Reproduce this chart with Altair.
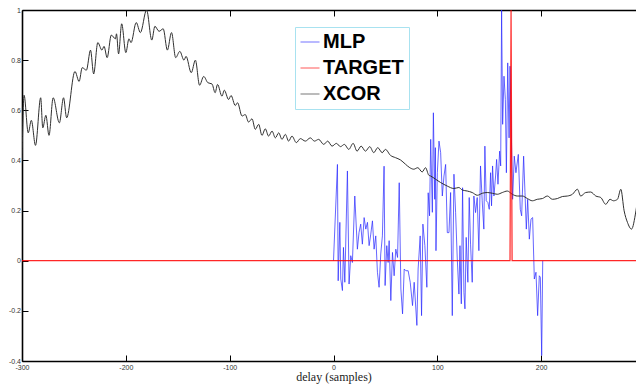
import altair as alt
import pandas as pd

# ---- data ----
xcor_x = [-300, -298, -294, -291, -287, -282, -280, -277, -274, -270, -264, -260, -257,
          -249, -245, -242, -238, -234, -231, -227, -223, -221, -218, -214, -210, -209,
          -207, -204, -200, -197, -195, -190, -186, -180, -175, -172, -168, -164, -160,
          -156, -152, -148, -144, -142, -137, -133, -129, -125, -121, -117, -114, -111.7,
          -107.4, -105.2, -101, -98.7, -94.6, -92.4, -88.1, -85, -81.8, -78.5, -75.3,
          -72.1, -68.9, -65.7, -62.5, -59.2, -56, -52.8, -49.6, -46.4, -43.2, -40, -35.8,
          -31.9, -27.1, -22.3, -18.4, -14.3, -9.4, -5.6, -1.4, 2.8, 6.7, 10.5, 14.7,
          18.9, 22.7, 26.6, 30.8, 34.9, 38.8, 42.6, 46.9, 50, 54.9, 59.7, 64.5, 69.3,
          73.5, 77.3, 81.2, 85.4, 88.6, 91.8, 93.5, 98.3, 103.1, 109.5, 115.9, 120.7,
          124, 128.8, 133.6, 138.5, 143.3, 148.1, 153, 157.8, 162.6, 167.4, 172.2, 177,
          181.9, 186.7, 191.5, 196.3, 201.2, 206, 210.8, 215.6, 220.4, 225.3, 230.1,
          234.9, 238.1, 242.9, 247.7, 252.6, 257.4, 262.2, 266.3, 269.6, 273.5, 276.7,
          279.9, 283.1, 287, 291.3, 294.5, 297.6, 300]
xcor_y = [0.40, 0.66, 0.51, 0.56, 0.46, 0.65, 0.53, 0.58, 0.50, 0.65, 0.55, 0.65, 0.57,
          0.755, 0.715, 0.77, 0.76, 0.84, 0.745, 0.87, 0.84, 0.855, 0.81, 0.90, 0.885, 0.905,
          0.825, 0.945, 0.83, 0.885, 0.87, 0.95, 0.91, 1.00, 0.88, 0.935, 0.915, 0.925, 0.84,
          0.91, 0.81, 0.835, 0.80, 0.815, 0.75, 0.80, 0.70, 0.735, 0.71, 0.705, 0.67, 0.703,
          0.656, 0.68, 0.643, 0.659, 0.619, 0.63, 0.577, 0.583, 0.553, 0.566, 0.524,
          0.544, 0.50, 0.526, 0.497, 0.517, 0.49, 0.51, 0.484, 0.504, 0.477, 0.497, 0.471,
          0.487, 0.477, 0.49, 0.477, 0.484, 0.464, 0.477, 0.457, 0.468, 0.455, 0.464, 0.444,
          0.468, 0.437, 0.457, 0.437, 0.455, 0.431, 0.451, 0.431, 0.444, 0.42, 0.411, 0.402, 0.385,
          0.371, 0.365, 0.371, 0.354, 0.371, 0.341, 0.338, 0.325, 0.312, 0.298, 0.288, 0.292,
          0.282, 0.278, 0.272, 0.261, 0.269, 0.272, 0.269, 0.265, 0.272, 0.278, 0.265, 0.258,
          0.258, 0.248, 0.239, 0.245, 0.248, 0.258, 0.245, 0.248, 0.256, 0.258, 0.265,
          0.285, 0.258, 0.272, 0.274, 0.258, 0.252, 0.225, 0.245, 0.239, 0.245, 0.285,
          0.199, 0.153, 0.126, 0.199, 0.292, 0.212, 0.179]

mlp_x = [0, 3.8, 4.5, 6.1, 7, 8.6, 9.6, 10.9, 13.4, 15, 16.6, 18.2, 20.5, 23, 24.6, 26.2,
         27.8, 29.5, 31.1, 32.7, 34.3, 35.9, 37.5, 39.1, 40.7, 42.3, 43.9, 45.5, 47.1, 48.7,
         49.7, 51.3, 52.6, 53.6, 55.2, 56.8, 58.4, 60, 61.7, 63.3, 64.9, 66.5, 68.1, 69.7,
         71.9, 73.9, 76.1, 77.7, 80.3, 81.5, 83.5, 84.8, 86.1, 88, 89.9, 91.2, 92.5,
         93.6, 95.2, 96.2, 97.5, 98.1, 98.7, 100, 101.6, 103.2, 104.8, 106.4, 108, 109.6,
         111.2, 112.8, 114.4, 116, 117.6, 119.2, 120.8, 121.8, 123.1, 124.3, 125.6, 126.6,
         127.8, 129.4, 130.7, 132, 133.6, 135.2, 136.8, 138.4, 140, 141.6, 143.2, 144.8,
         145.8, 147.1, 148.7, 150, 151.3, 152.2, 153.2, 154.5, 156.1, 157.1, 158.4, 160,
         161, 161.9, 162.9, 164.2, 165.5, 166.5, 167.8, 169.1, 170, 172.5, 174.1, 175.7,
         178, 179.9, 181.2, 183.1, 184.4, 185.7, 187, 188.6, 190.2, 191.8, 193.4, 195,
         196.6, 198.2, 199.2, 200.5, 201.5]
mlp_y = [0, 0.384, -0.08, 0.153, -0.073, -0.119, 0.053, -0.086, 0.358, -0.093, 0.02, -0.007,
         0.258, 0.046, 0.113, 0.146, 0.066, 0.172, 0.126, 0.153, 0.06, 0.106, 0.159, 0.046,
         0.099, -0.046, -0.106, 0.027, 0.099, 0.377, -0.099, 0.06, -0.007, 0.08, -0.159,
         0.033, -0.06, 0.046, 0.013, 0.311, -0.113, -0.212, -0.033, -0.04, -0.04, -0.086,
         -0.179, -0.086, -0.258, -0.033, 0.099, -0.219, 0.146, 0.06, -0.106, 0.271, 0.179,
         0.484, 0.193, 0.59, 0.245, 0.451, 0.04, 0.351, 0.477, 0.431, 0.258, 0.338, 0.384,
         0.112, 0.112, 0.272, -0.219, 0.345, 0.193, 0.007, -0.133, 0.06, -0.172, 0.291,
         -0.126, -0.192, 0.093, -0.086, 0.252, 0.066, -0.086, 0.258, 0.192, 0.252, 0.04,
         0.378, 0.239, 0.126, 0.457, 0.239, 0.232, 0.205, 0.351, 0.219, 0.378, 0.258, 0.338,
         0.404, 0.305, 0.437, 0.378, 1.0, 0.544, 0.736, 0.643, 0.351, 0.789, 0.49, 0.776,
         0.245, 0.417, 0.351, 0.424, 0.205, 0.179, 0.417, 0.272, 0.126, 0.245, 0.086, 0.166,
         0.172, -0.073, -0.046, -0.219, -0.06, -0.066, -0.378, 0]

target_x = [-300, 170, 171, 172, 300]
target_y = [0, 0, 1.0, 0, 0]

series_names = ["MLP", "TARGET", "XCOR"]
series_colors = ["#2a2aff", "#ff0000", "#303030"]

x_ticks = [-300, -200, -100, 0, 100, 200, 300]
y_ticks = [-0.4, -0.2, 0, 0.2, 0.4, 0.6, 0.8, 1]

df = pd.concat([
    pd.DataFrame({"delay": mlp_x, "value": mlp_y, "series": "MLP", "order": range(len(mlp_x))}),
    pd.DataFrame({"delay": target_x, "value": target_y, "series": "TARGET", "order": range(len(target_x))}),
    pd.DataFrame({"delay": xcor_x, "value": xcor_y, "series": "XCOR", "order": range(len(xcor_x))}),
], ignore_index=True)

W, H = 623, 351

xs = alt.Scale(domain=[-300, 300], nice=False, zero=False)
ys = alt.Scale(domain=[-0.4, 1], nice=False, zero=False)
cs = alt.Scale(domain=series_names, range=series_colors)

legend = alt.Legend(
    title=None, orient="none", legendX=273, legendY=17,
    padding=5, strokeColor="#a8e2f0", fillColor="white",
    labelFont="Liberation Sans", labelFontWeight="bold", labelFontSize=20,
    labelColor="black", labelOffset=3, symbolType="stroke", symbolSize=361,
    symbolStrokeWidth=1, symbolOpacity=0.65, rowPadding=6, labelLimit=200,
)

base = alt.Chart(df)
lab = "toString(datum.value)"

mlp = base.transform_filter(alt.datum.series == "MLP").mark_line(
    strokeWidth=0.9, opacity=0.8, clip=True
).encode(
    x=alt.X("delay:Q", scale=xs, axis=alt.Axis(orient="top", offset=-H, values=x_ticks,
            labels=False, tickSize=6, domain=False, title=None, grid=False)),
    y=alt.Y("value:Q", scale=ys, axis=alt.Axis(orient="right", offset=-W, values=y_ticks,
            labels=False, tickSize=6, domain=False, title=None, grid=False)),
    color=alt.Color("series:N", scale=cs, legend=legend),
    order="order:Q",
)

xcor = base.transform_filter(alt.datum.series == "XCOR").mark_line(
    strokeWidth=1, interpolate="monotone", clip=True
).encode(
    x=alt.X("delay:Q", scale=xs, axis=alt.Axis(orient="bottom", values=x_ticks, tickSize=0,
            labelExpr=lab, labelPadding=2, labelFlush=False, title="delay (samples)",
            titleFont="Liberation Serif", titleFontSize=12, titleFontWeight="normal",
            titleColor="#222222", titlePadding=1.5, grid=False)),
    y=alt.Y("value:Q", scale=ys, axis=alt.Axis(orient="left", values=y_ticks, tickSize=0,
            labelExpr=lab, labelPadding=1.5, labelFlush=False, title=None, grid=False)),
    color=alt.Color("series:N", scale=cs, legend=legend),
    order="order:Q",
)

target = base.transform_filter(alt.datum.series == "TARGET").mark_line(
    strokeWidth=1.2, opacity=0.85, clip=True
).encode(
    x=alt.X("delay:Q", scale=xs, axis=alt.Axis(orient="bottom", offset=-H, values=x_ticks,
            labels=False, tickSize=6, title=None, grid=False)),
    y=alt.Y("value:Q", scale=ys, axis=alt.Axis(orient="left", offset=-W, values=y_ticks,
            labels=False, tickSize=6, title=None, grid=False)),
    color=alt.Color("series:N", scale=cs, legend=legend),
    order="order:Q",
)

chart = alt.layer(mlp, xcor, target).resolve_axis(
    x="independent", y="independent"
).properties(
    width=W, height=H,
    autosize=alt.AutoSizeParams(type="none"),
    padding={"left": 14, "top": 2, "right": -9, "bottom": 23},
).configure_view(stroke=None).configure_axis(
    labelFont="Liberation Sans", labelFontSize=7, labelColor="#333333",
    domainColor="black", domainWidth=1.6, tickColor="black", tickWidth=1,
)

chart.save("out.html", embed_options={"renderer": "svg", "actions": False})
